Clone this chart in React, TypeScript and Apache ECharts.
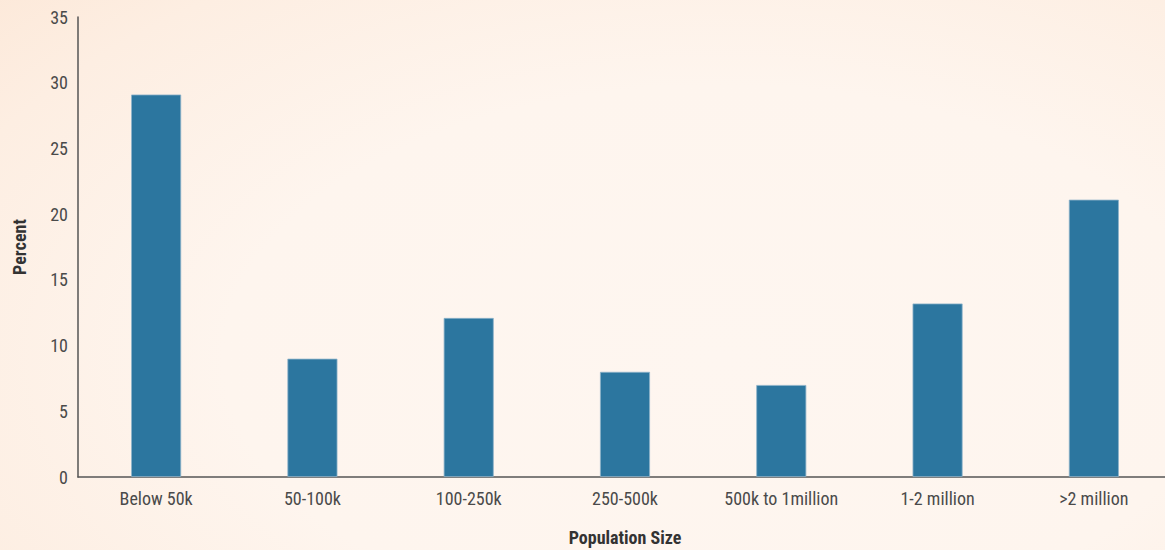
import React, { useEffect, useRef } from "react";
import * as echarts from "echarts";

const categories = ["Below 50k", "50-100k", "100-250k", "250-500k", "500k to 1million", "1-2 million", ">2 million"];
const percentValues = [29.1, 9, 12.1, 8, 7, 13.2, 21.1];
const yTicks = { min: 0, max: 35, interval: 5 };

const FONT = "'Liberation Sans Narrow', 'Arial Narrow', 'Roboto Condensed', sans-serif";

export default function App() {
  const ref = useRef<HTMLDivElement>(null);
  useEffect(() => {
    document.body.style.margin = "0";
    const chart = echarts.init(ref.current!, null, { renderer: "svg" });
    chart.setOption({
      animation: false,
      backgroundColor: "transparent",
      grid: { left: 78, right: -7, top: 17, bottom: 73, containLabel: false, outerBoundsMode: "none" },
      xAxis: {
        type: "category",
        data: categories,
        name: "Population Size",
        nameLocation: "middle",
        nameGap: 51,
        nameTextStyle: { fontFamily: FONT, fontWeight: "bold", fontSize: 18, color: "#333" },
        axisLine: { lineStyle: { color: "#555", width: 1.5 } },
        axisTick: { show: false },
        axisLabel: { fontFamily: FONT, fontSize: 18, color: "#4a4a4a", margin: 12, interval: 0 },
      },
      yAxis: {
        type: "value",
        min: yTicks.min,
        max: yTicks.max,
        interval: yTicks.interval,
        name: "Percent",
        nameLocation: "middle",
        nameGap: 50,
        nameTextStyle: { fontFamily: FONT, fontWeight: "bold", fontSize: 18, color: "#333" },
        axisLine: { show: true, lineStyle: { color: "#555", width: 1.5 } },
        axisTick: { show: false },
        splitLine: { show: false },
        axisLabel: { fontFamily: FONT, fontSize: 18, color: "#4a4a4a", margin: 10 },
      },
      series: [
        {
          type: "bar",
          data: percentValues,
          barWidth: "32%",
          itemStyle: { color: "#2c769f", borderColor: "#8db2c9", borderWidth: 0.8 },
        },
      ],
    });
    return () => chart.dispose();
  }, []);
  return (
    <div
      style={{
        width: 1165,
        height: 550,
        background:
          "radial-gradient(ellipse 95% 110% at 62% 65%, #fef6f0 0%, #fef5ee 45%, #fdeee2 75%, #fce5d3 100%)",
      }}
    >
      <div ref={ref} style={{ width: 1165, height: 550 }} />
    </div>
  );
}
